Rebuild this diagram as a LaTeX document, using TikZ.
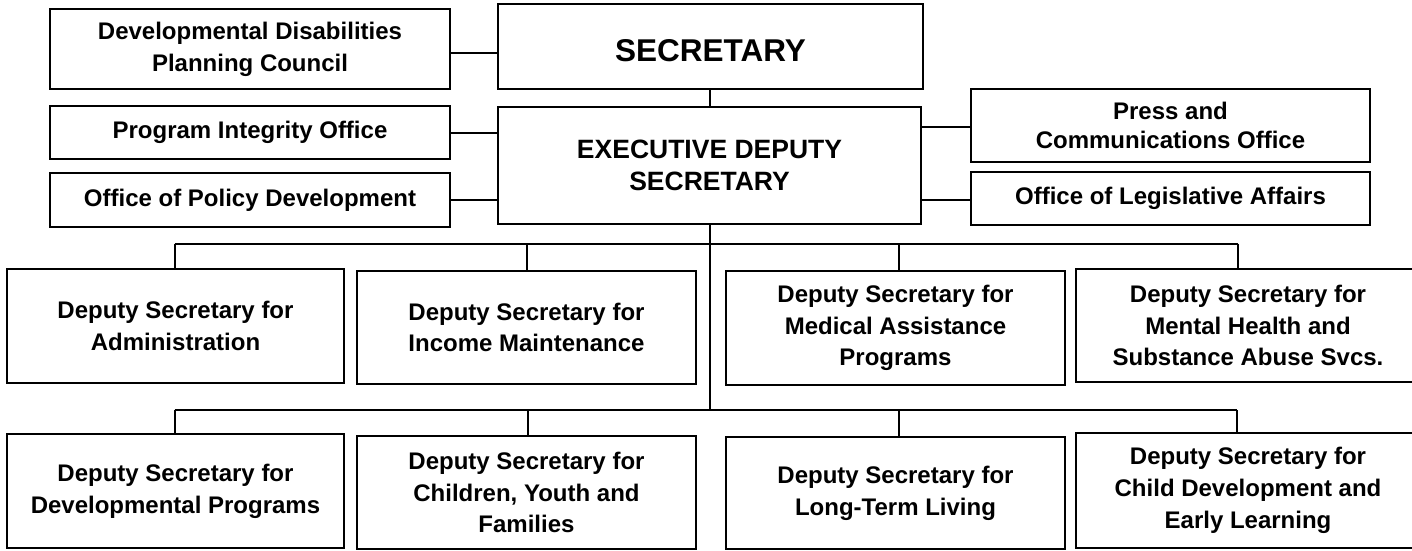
\documentclass[tikz,border=0pt]{standalone}
\usepackage{fontspec}
\setmainfont{Liberation Sans}
\begin{document}
\begin{tikzpicture}[x=1pt,y=1pt,
  box/.style={draw, line width=1.8pt, inner sep=0pt, align=center,
    font=\bfseries\fontsize{24}{31.7}\selectfont},
  conn/.style={line width=2pt}]
\useasboundingbox (0,0) rectangle (1412,-550);
\clip (0,0) rectangle (1412,-550);
\fill[white] (0,0) rectangle (1412,-550);
% top level
\node[box, minimum width=400pt, minimum height=80pt] (ddpc) at (250,-49) {Developmental Disabilities\\Planning Council};
\node[box, minimum width=425pt, minimum height=85pt, text height=30.3pt,
  font=\bfseries\fontsize{31.5}{36}\selectfont] (sec) at (710.5,-46.5) {SECRETARY};
\node[box, minimum width=400pt, minimum height=53pt] (pio) at (250,-132.5) {Program Integrity Office};
\node[box, minimum width=400pt, minimum height=54pt] (opd) at (250,-200) {Office of Policy Development};
\node[box, minimum width=423pt, minimum height=117pt,
  font=\bfseries\fontsize{26.5}{31.7}\selectfont] (eds) at (709.5,-165.5) {EXECUTIVE DEPUTY\\SECRETARY};
\node[box, minimum width=399pt, minimum height=73pt,
  font=\bfseries\fontsize{24}{29.5}\selectfont] (press) at (1170.5,-125.5) {Press and\\Communications Office};
\node[box, minimum width=399pt, minimum height=53pt] (ola) at (1170.5,-198.5) {Office of Legislative Affairs};
% deputies row 1
\node[box, minimum width=337pt, minimum height=114pt] (b1) at (175.5,-326) {Deputy Secretary for\\Administration};
\node[box, minimum width=339pt, minimum height=113pt] (b2) at (526.5,-327.5) {Deputy Secretary for\\Income Maintenance};
\node[box, minimum width=339pt, minimum height=114pt] (b3) at (895.5,-328) {Deputy Secretary for\\Medical Assistance\\Programs};
\node[box, minimum width=344pt, minimum height=113pt] (b4) at (1248,-325.5) {Deputy Secretary for\\Mental Health and\\Substance Abuse Svcs.};
% deputies row 2
\node[box, minimum width=337pt, minimum height=114pt] (b5) at (175.5,-491) {Deputy Secretary for\\Developmental Programs};
\node[box, minimum width=339pt, minimum height=113pt] (b6) at (526.5,-492.5) {Deputy Secretary for\\Children, Youth and\\Families};
\node[box, minimum width=339pt, minimum height=112pt] (b7) at (895.5,-493) {Deputy Secretary for\\Long-Term Living};
\node[box, minimum width=344pt, minimum height=115pt] (b8) at (1248,-490.5) {Deputy Secretary for\\Child Development and\\Early Learning};
% connectors top
\draw[conn] ([yshift=-4pt]ddpc.east) -- ([yshift=-4pt]ddpc.east -| sec.west);
\draw[conn] ([xshift=-0.5pt]sec.south) -- ([xshift=-0.5pt]sec.south |- eds.north);
\draw[conn] (pio.east) -- (pio.east -| eds.west);
\draw[conn] (opd.east) -- (opd.east -| eds.west);
\draw[conn] ([yshift=-1.5pt]press.west) -- ([yshift=-1.5pt]press.west -| eds.east);
\draw[conn] ([yshift=-1.5pt]ola.west) -- ([yshift=-1.5pt]ola.west -| eds.east);
% bus coordinates
\coordinate (j2) at (710,-410);
\coordinate (d1) at (174.5,-243.5);
\coordinate (d2) at (527,-243.5);
\coordinate (d3) at (898.5,-243.5);
\coordinate (d4) at (1238,-243.5);
\coordinate (e1) at (174.5,-410);
\coordinate (e2) at (528,-410);
\coordinate (e3) at (898.5,-410);
\coordinate (e4) at (1237,-410);
\draw[conn] ([xshift=0.5pt]eds.south) -- (j2);
\draw[conn] (d1) -- (d4);
\draw[conn] (e1) -- (e4);
\draw[conn] (d1) -- (d1 |- b1.north);
\draw[conn] (d2) -- (d2 |- b2.north);
\draw[conn] (d3) -- (d3 |- b3.north);
\draw[conn] (d4) -- (d4 |- b4.north);
\draw[conn] (e1) -- (e1 |- b5.north);
\draw[conn] (e2) -- (e2 |- b6.north);
\draw[conn] (e3) -- (e3 |- b7.north);
\draw[conn] (e4) -- (e4 |- b8.north);
\end{tikzpicture}
\end{document}
